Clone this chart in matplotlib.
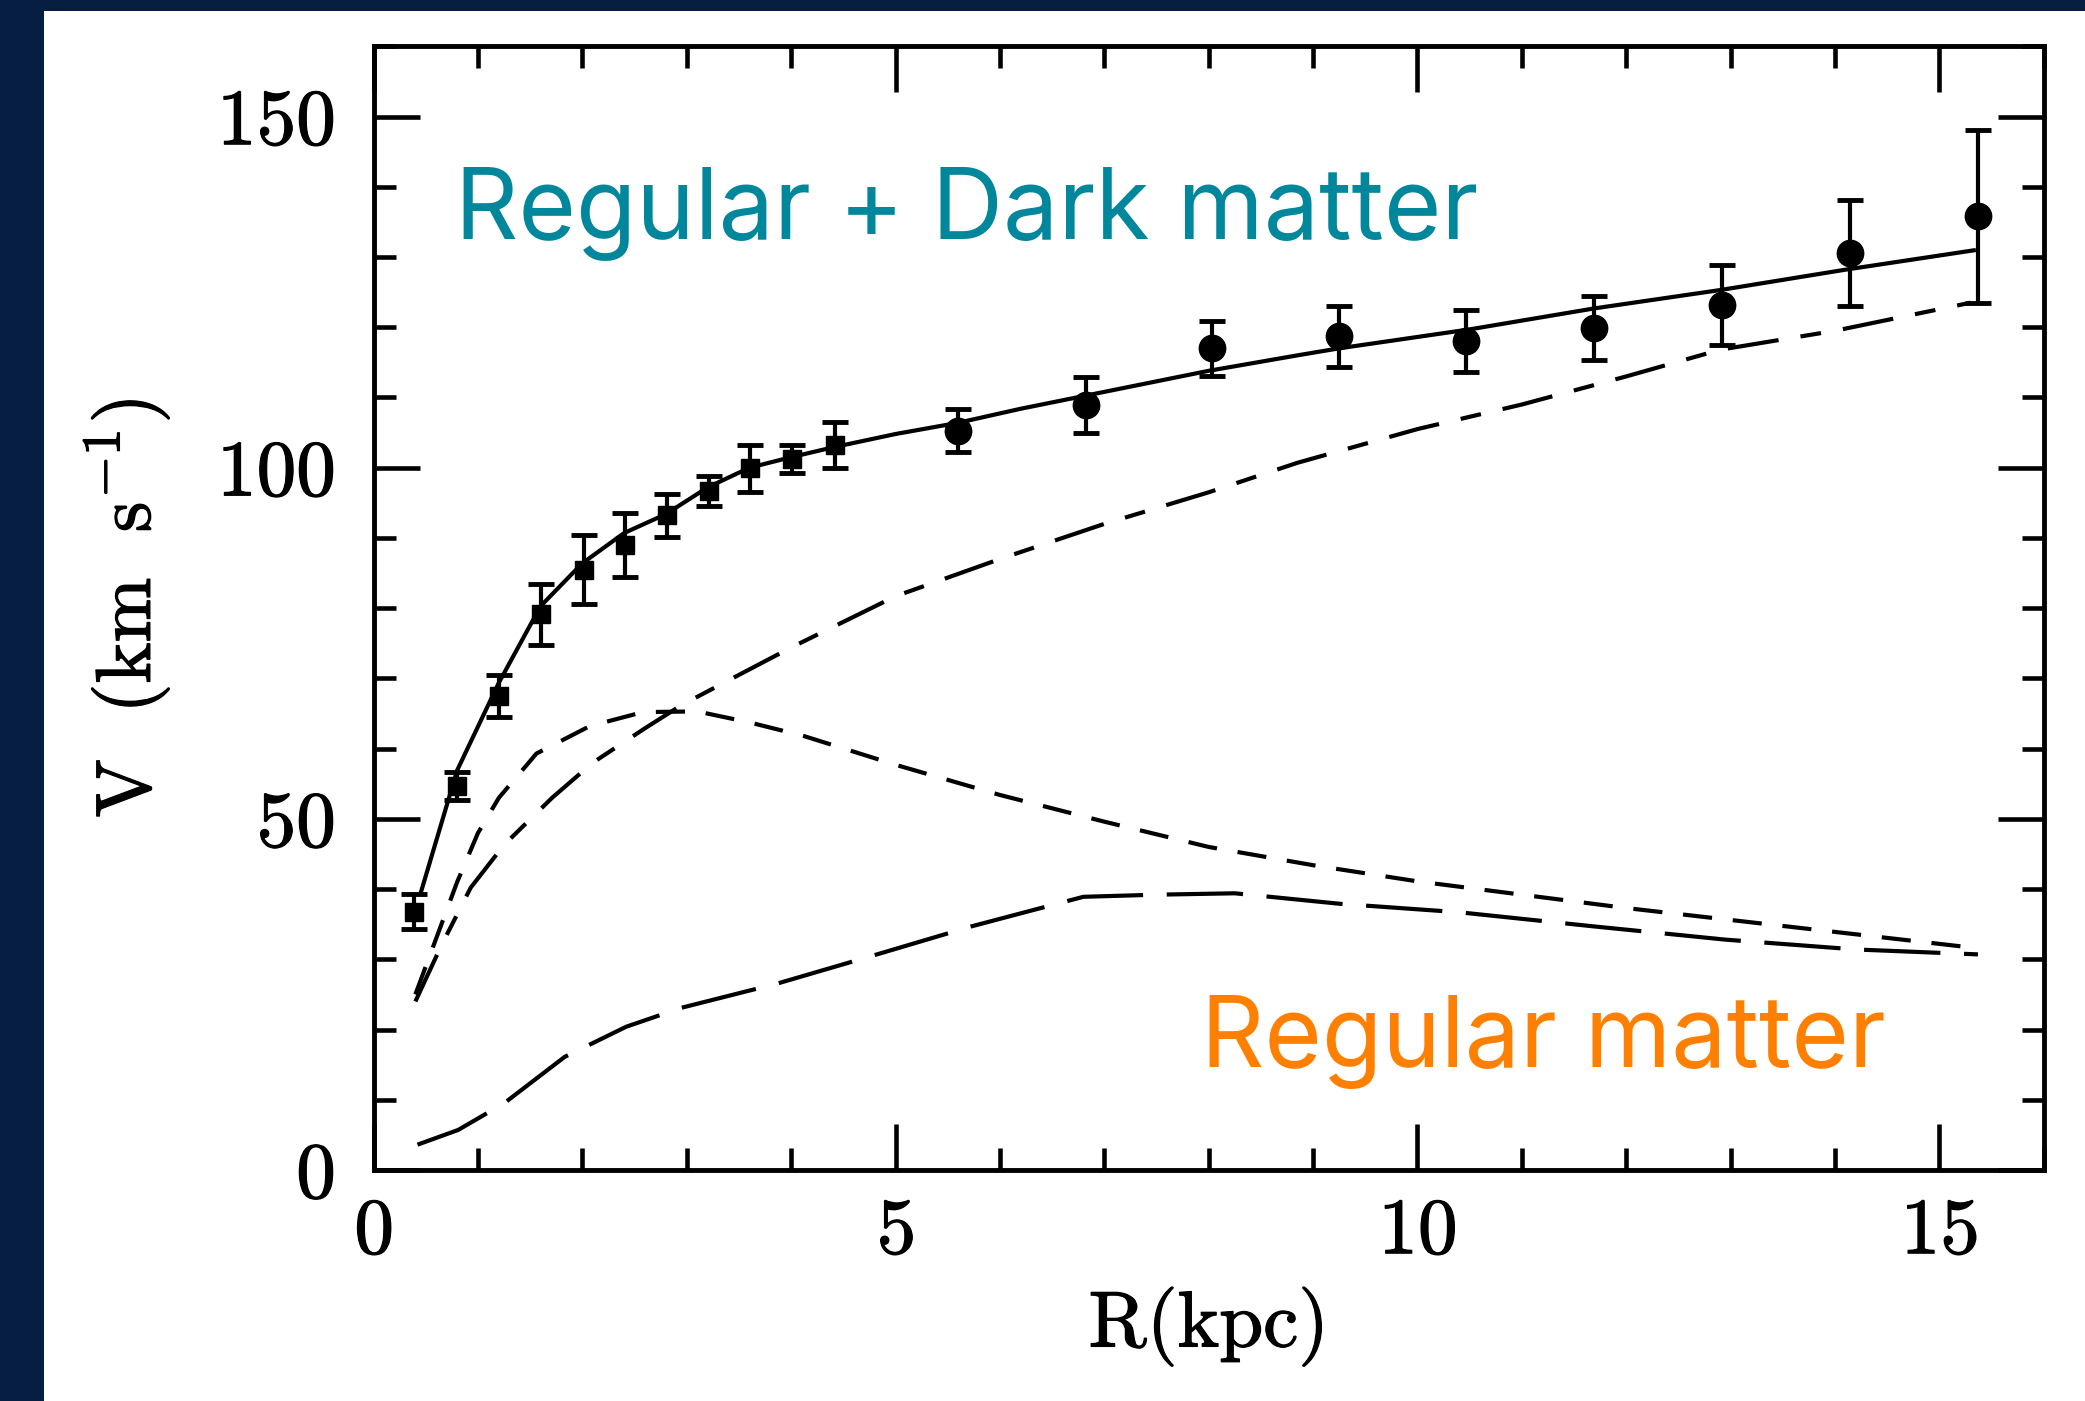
import matplotlib.pyplot as plt
import matplotlib.patheffects as pe
from matplotlib.patches import Rectangle
from matplotlib.ticker import MultipleLocator

# measured rotation curve, inner points (squares)
r_in = [0.39, 0.80, 1.20, 1.60, 2.02, 2.41, 2.81, 3.21, 3.61, 4.01, 4.42]
v_in = [36.8, 54.7, 67.5, 79.1, 85.5, 89.0, 93.2, 96.7, 99.9, 101.3, 103.2]
e_in = [2.5, 2.0, 3.0, 4.4, 4.9, 4.5, 3.1, 2.1, 3.3, 2.0, 3.3]

# outer points (circles)
r_out = [5.60, 6.82, 8.03, 9.25, 10.47, 11.69, 12.92, 14.14, 15.37]
v_out = [105.3, 108.9, 117.0, 118.7, 118.0, 119.9, 123.2, 130.6, 135.8]
e_out = [3.0, 4.0, 3.9, 4.4, 4.4, 4.6, 5.7, 7.5, 12.3]

# model fit: total
total_r = [0.45, 0.8, 1.2, 1.6, 2.0, 2.4, 2.8, 3.2, 3.6, 4.0, 4.4, 5.0, 5.6,
           6.2, 6.8, 7.4, 8.0, 8.85, 9.25, 10.5, 11.7, 12.9, 14.1, 15.35]
total_v = [39.4, 56.9, 69.4, 80.3, 86.4, 90.7, 93.4, 97.2, 100.0, 101.5, 102.9,
           104.8, 106.4, 108.4, 110.2, 112.0, 113.8, 116.0, 117.0, 119.7, 122.7,
           125.3, 128.2, 131.0]

# dark halo
halo_r = [0.4, 0.65, 0.93, 1.25, 1.71, 2.1, 2.6, 2.95, 3.5, 4.0, 5.0, 6.0, 7.0,
          8.0, 8.85, 10.0, 11.0, 12.0, 12.9, 14.0, 15.3]
halo_v = [24.0, 32.0, 40.2, 46.3, 53.0, 58.0, 62.9, 66.2, 70.5, 74.4, 81.7, 87.0,
          92.0, 96.5, 100.7, 105.5, 109.0, 113.0, 116.8, 119.5, 123.5]

# stellar disk
disk_r = [0.4, 0.6, 0.8, 1.0, 1.2, 1.56, 2.07, 2.58, 3.1, 3.61, 4.12, 5.0, 6.0,
          7.0, 8.0, 9.0, 10.0, 11.0, 12.0, 13.0, 14.0, 15.35]
disk_v = [25.0, 33.0, 41.0, 48.0, 53.0, 59.3, 63.2, 65.2, 65.3, 63.7, 61.8, 57.7,
          53.4, 49.6, 46.0, 43.4, 41.1, 39.2, 37.3, 35.6, 33.9, 31.6]

# gas
gas_r = [0.42, 0.81, 1.25, 1.83, 2.42, 2.95, 3.88, 4.8, 5.73, 6.8, 7.5, 8.25,
         9.26, 10.4, 11.68, 12.95, 14.2, 15.37]
gas_v = [3.6, 5.7, 9.5, 16.1, 20.4, 23.1, 26.6, 30.6, 34.7, 38.9, 39.2, 39.4,
         37.9, 36.7, 34.7, 32.8, 31.4, 30.7]

navy = "#051E42"
teal = "#00879B"
orange = "#FF8000"

plt.rcParams["mathtext.fontset"] = "cm"
plt.rcParams["axes.formatter.use_mathtext"] = True

# scanned-look: thicken the thin cmr10 glyphs a little
bold = [pe.withStroke(linewidth=0.9, foreground="black")]

fig = plt.figure(figsize=(20.85, 14.01), dpi=100, facecolor=navy)
fig.add_artist(Rectangle((44 / 2085, 0), 1, 1 - 11 / 1401,
                         transform=fig.transFigure, facecolor="white",
                         edgecolor="none", zorder=-1))

ax = fig.add_axes([0.1792, 0.1649, 0.801, 0.802])
ax.set_facecolor("white")

lw = 3.0
ax.plot(total_r, total_v, color="black", lw=lw, solid_capstyle="butt")
ax.plot(halo_r, halo_v, color="black", lw=lw,
        linestyle=(0, (37 / lw, 16 / lw, 15 / lw, 16 / lw)))
ax.plot(disk_r, disk_v, color="black", lw=lw,
        linestyle=(0, (21 / lw, 15 / lw)))
ax.plot(gas_r, gas_v, color="black", lw=lw,
        linestyle=(0, (55 / lw, 17 / lw)))

ax.errorbar(r_in, v_in, yerr=e_in, fmt="s", color="black", ms=12.5,
            elinewidth=3, capsize=9.5, capthick=3.5)
ax.errorbar(r_out, v_out, yerr=e_out, fmt="o", color="black", ms=19,
            elinewidth=3, capsize=9.5, capthick=3.5)

ax.set_xlim(0, 16)
ax.set_ylim(0, 160)
ax.xaxis.set_major_locator(MultipleLocator(5))
ax.xaxis.set_minor_locator(MultipleLocator(1))
ax.yaxis.set_major_locator(MultipleLocator(50))
ax.yaxis.set_minor_locator(MultipleLocator(10))
ax.tick_params(which="both", direction="in", top=True, right=True, width=3.3,
               labelsize=57)
ax.tick_params(which="major", length=33)
ax.tick_params(which="minor", length=16)
ax.tick_params(axis="x", pad=20)
ax.tick_params(axis="y", pad=28)
for lab in ax.get_xticklabels() + ax.get_yticklabels():
    lab.set_fontfamily("cmr10")
    lab.set_path_effects(bold)
for sp in ax.spines.values():
    sp.set_linewidth(3.5)

ax.set_xlabel("R(kpc)", fontfamily="cmr10", fontsize=57, labelpad=12,
              path_effects=bold)
ax.set_ylabel(r"$\mathrm{V\ \ (km\ \ s^{-1})}$", fontsize=56, labelpad=32,
              path_effects=bold)

ax.text(0.775, 132.6, "Regular + Dark matter", color=teal, fontsize=71,
        fontfamily="Inter", ha="left", va="baseline")
ax.text(7.93, 14.6, "Regular matter", color=orange, fontsize=71,
        fontfamily="Inter", ha="left", va="baseline")

fig.savefig("out.png", dpi=100, facecolor=navy)
